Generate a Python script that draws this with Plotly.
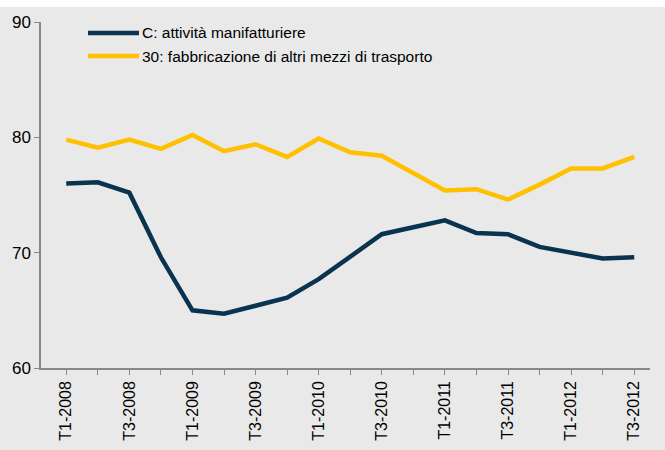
import plotly.graph_objects as go

quarters = [f"T{q}-{y}" for y in range(2008, 2013) for q in range(1, 5)][:19]
tick_labels = ["T1-2008", "T3-2008", "T1-2009", "T3-2009", "T1-2010",
               "T3-2010", "T1-2011", "T3-2011", "T1-2012", "T3-2012"]
series_c_name = "C: attività manifatturiere"
series_c = [76.0, 76.1, 75.2, 69.6, 65.0, 64.7, 65.4, 66.1, 67.7, 69.7,
            71.6, 72.2, 72.8, 71.7, 71.6, 70.5, 70.0, 69.5, 69.6]
series_30_name = "30: fabbricazione di altri mezzi di trasporto"
series_30 = [79.8, 79.1, 79.8, 79.0, 80.2, 78.8, 79.4, 78.3, 79.9, 78.7,
             78.4, 76.9, 75.4, 75.5, 74.6, 75.9, 77.3, 77.3, 78.3]

C_COLOR = "#0a3350"
Y_COLOR = "#ffc000"
BG = "#e9e9e9"

fig = go.Figure()
fig.add_trace(go.Scatter(x=quarters, y=series_c, mode="lines", name=series_c_name,
                         line=dict(color=C_COLOR, width=4.5)))
fig.add_trace(go.Scatter(x=quarters, y=series_30, mode="lines", name=series_30_name,
                         line=dict(color=Y_COLOR, width=4.5)))

ticktext = [q if q in tick_labels else "" for q in quarters]

L, R, T, B, W, H = 41, 15, 22, 82, 665, 450
pw, ph = W - L - R, H - T - B


def px(x):
    return (x - L) / pw


def py(y):
    return (H - B - y) / ph


shapes = [dict(type="rect", xref="paper", yref="paper", x0=px(-5), x1=px(W + 5),
               y0=py(H + 5), y1=py(7), fillcolor=BG,
               line=dict(width=0), layer="below")]
annotations = []
for (name, color, yy) in [(series_c_name, C_COLOR, 33), (series_30_name, Y_COLOR, 56)]:
    shapes.append(dict(type="line", xref="paper", yref="paper",
                       x0=px(88), x1=px(139), y0=py(yy), y1=py(yy),
                       line=dict(color=color, width=4.5)))
    annotations.append(dict(xref="paper", yref="paper", x=px(140), y=py(yy),
                            xanchor="left", yanchor="middle", text=name,
                            showarrow=False, font=dict(size=15.5, color="#000")))

fig.update_layout(
    width=W, height=H,
    margin=dict(l=L, r=R, t=T, b=B),
    paper_bgcolor="white", plot_bgcolor=BG,
    font=dict(family="Liberation Sans, Arial, sans-serif", size=14, color="#000"),
    showlegend=False,
    xaxis=dict(type="category", categoryorder="array", categoryarray=quarters,
               range=[-0.8, 18.5], tickmode="array", tickvals=quarters,
               ticktext=ticktext, tickangle=-90, ticks="outside", ticklen=5,
               tickcolor="#888", showline=True, linecolor="#888", linewidth=1.5,
               showgrid=False, zeroline=False, tickfont=dict(size=16),
               automargin=False),
    yaxis=dict(range=[60, 90], tickvals=[60, 70, 80, 90], ticks="outside",
               ticklen=5, tickcolor="#888", showline=True, linecolor="#888",
               linewidth=1.5, showgrid=False, zeroline=False,
               tickfont=dict(size=17), automargin=False),
    shapes=shapes,
    annotations=annotations,
)

fig.write_html("out.html", config={"displayModeBar": False},
               post_script="document.body.style.margin='0';document.body.style.padding='0';")
